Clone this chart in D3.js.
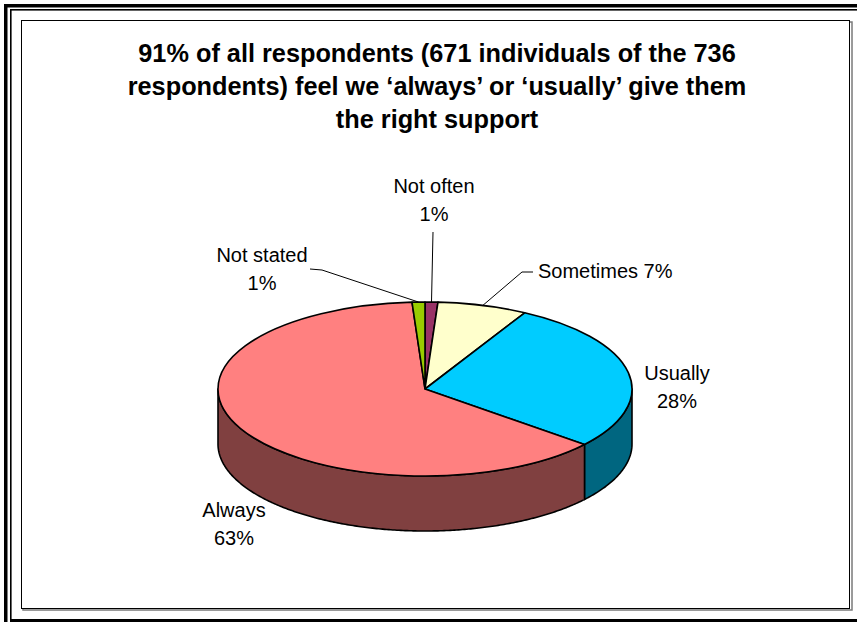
<!DOCTYPE html>
<html>
<head>
<meta charset="utf-8">
<script src="https://cdn.jsdelivr.net/npm/d3@7"></script>
<style>
  html, body { margin: 0; padding: 0; background: #fff; }
  svg { display: block; }
  text { font-family: "Liberation Sans", Arial, sans-serif; fill: #000; }
</style>
</head>
<body>
<svg id="chart" width="857" height="622"></svg>
<script>
// Survey answers, in the order the slices run clockwise from 12 o'clock
const categories = ["Not often", "Sometimes", "Usually", "Always", "Not stated"];
const percentages = [1, 7, 28, 63, 1];
const topColors = ["#993366", "#FFFFCC", "#00CCFF", "#FF8080", "#99CC00"];
const sideColors = ["#4D1A33", "#80805F", "#006680", "#804040", "#4D6600"];
const singleLineLabels = ["Sometimes"];
const titleLines = [
  "91% of all respondents (671 individuals of the 736",
  "respondents) feel we \u2018always\u2019 or \u2018usually\u2019 give them",
  "the right support"
];

// Label placement (text anchor, first baseline, leader start / elbow)
const labelLayout = {
  "Not often":  { x: 434, y: 193, anchor: "middle", leader: [[433, 232]] },
  "Sometimes":  { x: 538, y: 278, anchor: "start",  leader: [[533, 272], [522, 272]] },
  "Usually":    { x: 677, y: 380, anchor: "middle", leader: null },
  "Always":     { x: 234, y: 517, anchor: "middle", leader: null },
  "Not stated": { x: 262, y: 262, anchor: "middle", leader: [[310, 269], [322, 270]] }
};

const W = 857, H = 622;
const svg = d3.select("#chart");

// ---- page frame ----
const frame = svg.append("g");
frame.append("rect").attr("x", 4).attr("y", 4).attr("width", W - 4).attr("height", 3.5).attr("fill", "#000");
frame.append("rect").attr("x", 4).attr("y", 4).attr("width", 3.5).attr("height", H - 4).attr("fill", "#000");
frame.append("rect").attr("x", 10).attr("y", 9).attr("width", W - 10).attr("height", 1.6).attr("fill", "#000");
frame.append("rect").attr("x", 10).attr("y", 9).attr("width", 1.6).attr("height", H - 10).attr("fill", "#000");
frame.append("rect").attr("x", 10).attr("y", 619).attr("width", W - 10).attr("height", 3).attr("fill", "#000");

// chart area border with a soft shadow
frame.append("rect").attr("x", 23).attr("y", 22).attr("width", 829).attr("height", 588)
  .attr("fill", "none").attr("stroke", "#7a7a7a").attr("stroke-width", 1.5);
frame.append("rect").attr("x", 21.5).attr("y", 20.5).attr("width", 828).attr("height", 588)
  .attr("fill", "#fff").attr("stroke", "#000").attr("stroke-width", 1);

// ---- title ----
const title = svg.append("text")
  .attr("x", 437).attr("y", 62)
  .attr("text-anchor", "middle")
  .style("font-weight", "bold").style("font-size", "25.3px");
title.selectAll("tspan").data(titleLines).join("tspan")
  .attr("x", 437).attr("dy", (d, i) => i === 0 ? 0 : 33)
  .text(d => d);

// ---- 3D pie ----
const cx = 425, cy = 389, rx = 207, ry = 87, depth = 55;
const pt = (a, dy = 0) => [cx + rx * Math.sin(a), cy - ry * Math.cos(a) + dy];

const arcs = d3.pie().sort(null).value(d => d)(percentages);

const line = d3.line();
const sampled = (a0, a1, dy) => {
  const n = Math.max(2, Math.ceil((a1 - a0) / 0.01));
  return d3.range(n + 1).map(i => pt(a0 + (a1 - a0) * i / n, dy));
};

// outer walls: only the front half (angles between 90 and 270 degrees) is seen
const walls = svg.append("g");
arcs.forEach((d, i) => {
  const a0 = Math.max(d.startAngle, Math.PI / 2);
  const a1 = Math.min(d.endAngle, 3 * Math.PI / 2);
  if (a1 <= a0) return;
  const pts = sampled(a0, a1, 0).concat(sampled(a0, a1, depth).reverse());
  walls.append("path")
    .attr("d", line(pts) + "Z")
    .attr("fill", sideColors[i])
    .attr("stroke", "#000").attr("stroke-width", 1.6).attr("stroke-linejoin", "round");
});

// top faces: a circular arc squashed to an ellipse
const arcGen = d3.arc().innerRadius(0).outerRadius(rx);
svg.append("g")
  .attr("transform", `translate(${cx},${cy}) scale(1,${ry / rx})`)
  .selectAll("path").data(arcs).join("path")
  .attr("d", arcGen)
  .attr("fill", (d, i) => topColors[i])
  .attr("stroke", "#000").attr("stroke-width", 1.6)
  .attr("stroke-linejoin", "round")
  .attr("vector-effect", "non-scaling-stroke");

// ---- labels & leader lines ----
const labels = svg.append("g").style("font-size", "20px");
arcs.forEach((d, i) => {
  const name = categories[i];
  const lay = labelLayout[name];
  const pct = percentages[i] + "%";
  const lines = singleLineLabels.includes(name) ? [name + " " + pct] : [name, pct];
  const t = labels.append("text")
    .attr("x", lay.x).attr("y", lay.y)
    .attr("text-anchor", lay.anchor);
  t.selectAll("tspan").data(lines).join("tspan")
    .attr("x", lay.x).attr("dy", (s, k) => k === 0 ? 0 : 28)
    .text(s => s);
  if (lay.leader) {
    const mid = (d.startAngle + d.endAngle) / 2;
    const pts = lay.leader.concat([pt(mid)]);
    svg.append("path")
      .attr("d", line(pts))
      .attr("fill", "none").attr("stroke", "#000").attr("stroke-width", 1);
  }
});
</script>
</body>
</html>
